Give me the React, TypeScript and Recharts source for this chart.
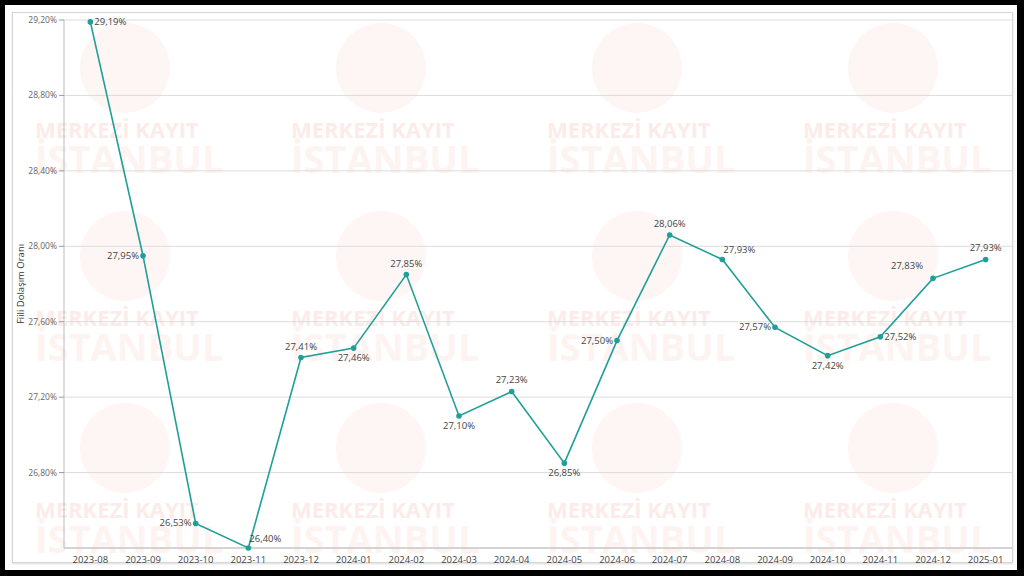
import React from 'react';
import { LineChart, Line, XAxis, YAxis, CartesianGrid, Label } from 'recharts';

const months = [
  '2023-08', '2023-09', '2023-10', '2023-11', '2023-12', '2024-01',
  '2024-02', '2024-03', '2024-04', '2024-05', '2024-06', '2024-07',
  '2024-08', '2024-09', '2024-10', '2024-11', '2024-12', '2025-01',
];
const ratios = [
  29.19, 27.95, 26.53, 26.4, 27.41, 27.46, 27.85, 27.1, 27.23,
  26.85, 27.5, 28.06, 27.93, 27.57, 27.42, 27.52, 27.83, 27.93,
];
const yTicks = [26.8, 27.2, 27.6, 28.0, 28.4, 28.8, 29.2];

// where each value label sits relative to its point
const labelSide = [
  'right', 'left', 'left', 'upright', 'above', 'below', 'above', 'below', 'above',
  'below', 'left', 'above', 'upright', 'left', 'below', 'right', 'upleft', 'above',
];

const TEAL = '#1f9f98';
const fmt = (v: number) => v.toFixed(2).replace('.', ',') + '%';

const data = months.map((m, i) => ({ month: m, value: ratios[i] }));

const ValueLabel = (props: any) => {
  const { x, y, value, index } = props;
  const side = labelSide[index];
  let tx = x;
  let ty = y;
  let anchor: 'start' | 'middle' | 'end' = 'middle';
  if (side === 'right') { tx = x + 4; ty = y + 3; anchor = 'start'; }
  else if (side === 'left') { tx = x - 4; ty = y + 3; anchor = 'end'; }
  else if (side === 'above') { ty = y - 8; }
  else if (side === 'below') { ty = y + 13; }
  else if (side === 'upright') { tx = x + 1; ty = y - 6; anchor = 'start'; }
  else if (side === 'upleft') { tx = x - 10; ty = y - 9; anchor = 'end'; }
  return (
    <text x={tx} y={ty} textAnchor={anchor} fontSize={9.5} fill="#444" fontFamily="'Open Sans', sans-serif">
      {fmt(value)}
    </text>
  );
};

const wmCols = [35, 291, 547, 803];
const wmRows = [120, 308, 500];

const Watermarks = () => (
  <>
    {wmRows.map((r) =>
      wmCols.map((c) => (
        <React.Fragment key={`${r}-${c}`}>
          <div
            style={{
              position: 'absolute', left: c + 45, top: r - 97, width: 90, height: 90,
              borderRadius: '50%', background: '#fef6f4',
            }}
          />
          <div
            style={{
              position: 'absolute', left: c, top: r - 4, width: 190, fontSize: 22, fontWeight: 700,
              color: '#fcece9', fontFamily: "'Open Sans', sans-serif", lineHeight: '26px', whiteSpace: 'nowrap',
            }}
          >
            MERKEZİ KAYIT
          </div>
          <div
            style={{
              position: 'absolute', left: c, top: r + 18, width: 190, fontSize: 38, fontWeight: 700,
              color: '#fdf4f2', fontFamily: "'Open Sans', sans-serif", lineHeight: '40px', whiteSpace: 'nowrap',
            }}
          >
            İSTANBUL
          </div>
        </React.Fragment>
      ))
    )}
  </>
);

export default function App() {
  return (
    <div style={{ position: 'absolute', left: 0, top: 0, width: 1024, height: 576, background: '#000' }}>
      <div style={{ position: 'absolute', left: 5, top: 5, width: 1012, height: 565, background: '#fff' }} />
      <div
        style={{
          position: 'absolute', left: 12, top: 12, width: 999, height: 549,
          border: '1px solid #d6d6d6', background: '#fff', boxShadow: '0 1px 2px rgba(0,0,0,0.15)',
        }}
      />
      <Watermarks />
      <div style={{ position: 'absolute', left: 0, top: 0 }}>
        <LineChart width={1024} height={576} data={data} margin={{ top: 20, right: 12, bottom: 14, left: 0 }}>
          <CartesianGrid vertical={false} stroke="#dcdcdc" />
          <XAxis
            dataKey="month"
            scale="band"
            height={14}
            tickLine={false}
            axisLine={{ stroke: '#bbb' }}
            tick={{ fontSize: 9.5, fill: '#444', fontFamily: "'Open Sans', sans-serif" }}
            tickMargin={2}
            interval={0}
          />
          <YAxis
            width={64}
            domain={[26.4, 29.2]}
            ticks={yTicks}
            tickFormatter={fmt}
            axisLine={{ stroke: '#bbb' }}
            tickLine={{ stroke: '#999' }}
            tickSize={5}
            tick={{ fontSize: 8.5, fill: '#666', fontFamily: "'Open Sans', sans-serif" }}
          >
            <Label
              content={(p: any) => {
                const vb = p.viewBox;
                const cx = 20;
                const cy = vb.y + vb.height / 2;
                return (
                  <text
                    x={cx}
                    y={cy}
                    transform={`rotate(-90, ${cx}, ${cy})`}
                    textAnchor="middle"
                    dominantBaseline="central"
                    fontSize={9.5}
                    fill="#333"
                    fontFamily="'Open Sans', sans-serif"
                  >
                    Fiili Dolaşım Oranı
                  </text>
                );
              }}
            />
          </YAxis>
          <Line
            type="linear"
            dataKey="value"
            stroke={TEAL}
            strokeWidth={1.6}
            dot={{ r: 2.8, fill: TEAL, stroke: TEAL, strokeWidth: 0 }}
            activeDot={false}
            isAnimationActive={false}
            label={<ValueLabel />}
          />
        </LineChart>
      </div>
    </div>
  );
}
